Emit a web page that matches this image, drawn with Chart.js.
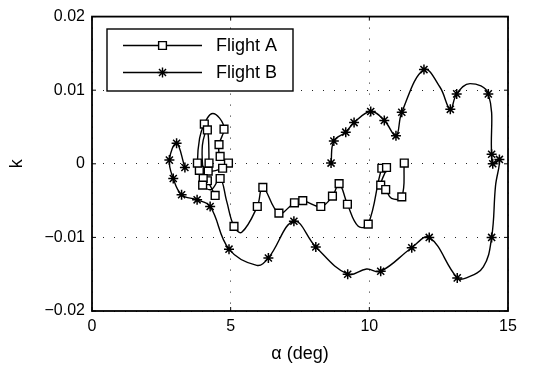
<!DOCTYPE html>
<html>
<head>
<meta charset="utf-8">
<script src="https://cdn.jsdelivr.net/npm/chart.js@4"></script>
<style>
  html, body { margin: 0; padding: 0; background: #fff; }
  canvas { display: block; }
</style>
</head>
<body>
<canvas id="myChart" width="534" height="366"></canvas>
<script>
// values (alpha in deg, k dimensionless)
// marked = 1 where the original plot has a symbol, 0 = point on the curve only
const seriesNames = ['Flight A', 'Flight B'];

const flightA_alpha = [4.44, 4.16, 3.87, 3.80, 3.88, 4.05, 4.31, 4.60, 4.76, 4.58, 4.62, 4.92, 4.71, 4.19,
  4.22, 4.16, 3.98, 4.01, 3.99, 4.30, 4.62, 4.85, 5.12, 5.40, 5.96, 6.16, 6.74, 7.30, 7.60, 8.25,
  8.67, 8.91, 9.21, 9.60, 9.96, 10.45, 10.62, 10.41, 10.59, 10.80, 11.17, 11.26];
const flightA_k = [-0.0043, -0.0023, -0.0009, 0.0001, 0.0035, 0.0054, 0.0068, 0.0062, 0.0047, 0.0026, 0.0010, 0.0001, -0.0006, -0.0010,
  0.0001, 0.0046, 0.0025, -0.0020, -0.0029, -0.0035, -0.0020, -0.0050, -0.0085, -0.0093, -0.0058, -0.0032, -0.0067, -0.0053, -0.0050, -0.0058,
  -0.0044, -0.0027, -0.0055, -0.0085, -0.0082, -0.0006, -0.0005, -0.0029, -0.0035, -0.0047, -0.0045, 0.0001];
const flightA_marked = [1, 1, 1, 1, 0, 1, 0, 0, 1, 1, 1, 1, 1, 1,
  1, 1, 0, 1, 1, 0, 1, 0, 1, 0, 1, 1, 1, 1, 1, 1,
  1, 1, 1, 0, 1, 1, 1, 1, 1, 0, 1, 1];

const flightB_alpha = [3.35, 3.05, 2.79, 2.93, 3.23, 3.79, 4.26, 4.94, 5.94, 6.36, 7.28, 8.07, 9.22, 9.90,
  10.41, 11.53, 12.16, 13.17, 13.50, 14.11, 14.41, 14.55, 14.69, 14.45, 14.41, 14.29, 13.63, 13.15, 12.92, 12.55,
  11.97, 11.17, 10.96, 10.54, 10.05, 9.45, 9.15, 8.72, 8.62];
const flightB_k = [-0.0005, 0.0028, 0.0005, -0.0020, -0.0042, -0.0049, -0.0058, -0.0116, -0.0138, -0.0128, -0.0078, -0.0113, -0.0150, -0.0143,
  -0.0146, -0.0114, -0.0100, -0.0155, -0.0155, -0.0140, -0.0100, -0.0030, 0.0006, 0.0000, 0.0013, 0.0095, 0.0109, 0.0095, 0.0074, 0.0104,
  0.0128, 0.0070, 0.0038, 0.0059, 0.0071, 0.0056, 0.0043, 0.0031, 0.0001];
const flightB_marked = [1, 1, 1, 1, 1, 1, 1, 1, 0, 1, 1, 1, 1, 0,
  1, 1, 1, 1, 0, 0, 1, 0, 1, 1, 1, 1, 0, 1, 1, 0,
  1, 1, 1, 1, 1, 1, 1, 1, 1];

const xTickLabels = ['0', '5', '10', '15'];
const yTickLabels = ['\u22120.02', '\u22120.01', '0', '0.01', '0.02'];

const FONT = "'Liberation Sans', Arial, Helvetica, sans-serif";

function toPoints(xs, ys) {
  return xs.map((x, i) => ({ x: x, y: ys[i] }));
}

const data = {
  datasets: [
    {
      label: seriesNames[0],
      data: toPoints(flightA_alpha, flightA_k),
      borderColor: '#000',
      borderWidth: 1.4,
      tension: 0.4,
      showLine: true,
      pointStyle: 'rect',
      pointRadius: ctx => flightA_marked[ctx.dataIndex] ? 5.5 : 0,
      pointBackgroundColor: '#fff',
      pointBorderColor: '#000',
      pointBorderWidth: 1.4
    },
    {
      label: seriesNames[1],
      data: toPoints(flightB_alpha, flightB_k),
      borderColor: '#000',
      borderWidth: 1.4,
      tension: 0.4,
      showLine: true,
      pointStyle: 'star',
      pointRadius: ctx => flightB_marked[ctx.dataIndex] ? 5 : 0,
      pointBackgroundColor: '#000',
      pointBorderColor: '#000',
      pointBorderWidth: 1.5
    }
  ]
};

// box, inward ticks and legend like the matlab figure
const framePlugin = {
  id: 'frame',
  afterDatasetsDraw(chart) {
    const { ctx, chartArea: a, scales: { x, y } } = chart;
    ctx.save();
    ctx.strokeStyle = '#000';
    ctx.lineWidth = 1;
    ctx.beginPath();
    x.ticks.forEach(t => {
      const px = x.getPixelForValue(t.value);
      ctx.moveTo(px, a.bottom); ctx.lineTo(px, a.bottom - 4);
      ctx.moveTo(px, a.top); ctx.lineTo(px, a.top + 4);
    });
    y.ticks.forEach(t => {
      const py = y.getPixelForValue(t.value);
      ctx.moveTo(a.left, py); ctx.lineTo(a.left + 4, py);
      ctx.moveTo(a.right, py); ctx.lineTo(a.right - 4, py);
    });
    ctx.stroke();
    ctx.lineWidth = 1.8;
    ctx.strokeRect(a.left, a.top, a.right - a.left, a.bottom - a.top);

    // legend
    const lx = 107, ly = 29, lw = 186, lh = 62;
    ctx.fillStyle = '#fff';
    ctx.fillRect(lx, ly, lw, lh);
    ctx.lineWidth = 1.4;
    ctx.strokeRect(lx, ly, lw, lh);
    const rows = [45.5, 72.5];
    chart.data.datasets.forEach((ds, i) => {
      const ry = rows[i];
      ctx.strokeStyle = '#000';
      ctx.lineWidth = 1.4;
      ctx.beginPath();
      ctx.moveTo(123, ry); ctx.lineTo(202, ry);
      ctx.stroke();
      ctx.fillStyle = ds.pointBackgroundColor;
      Chart.helpers.drawPoint(ctx, {
        pointStyle: ds.pointStyle,
        radius: i === 0 ? 5.5 : 5,
        rotation: 0,
        borderWidth: 1.4
      }, 162.5, ry);
      ctx.fillStyle = '#000';
      ctx.font = '18px ' + FONT;
      ctx.textBaseline = 'middle';
      ctx.textAlign = 'left';
      ctx.fillText(ds.label, 216, ry + 1);
    });
    ctx.restore();
  }
};

const config = {
  type: 'scatter',
  data: data,
  options: {
    responsive: false,
    animation: false,
    events: [],
    layout: { padding: { top: 16, right: 26, left: 0, bottom: 0 } },
    plugins: {
      legend: { display: false },
      tooltip: { enabled: false }
    },
    scales: {
      x: {
        type: 'linear',
        min: 0,
        max: 15,
        afterFit: s => { s.height = 55; },
        afterBuildTicks: s => { s.ticks = [0, 5, 10, 15].map(v => ({ value: v })); },
        ticks: {
          color: '#000',
          padding: 6,
          maxRotation: 0,
          font: { family: FONT, size: 16 },
          callback: (v, i) => xTickLabels[i]
        },
        grid: { color: '#222', lineWidth: 1, drawTicks: false },
        border: { display: false, dash: [1, 10] },
        title: {
          display: true,
          text: '\u03b1 (deg)',
          color: '#000',
          font: { family: FONT, size: 18 },
          padding: { top: 0, bottom: 1 }
        }
      },
      y: {
        type: 'linear',
        min: -0.02,
        max: 0.02,
        afterFit: s => { s.width = 92; },
        afterBuildTicks: s => { s.ticks = [-0.02, -0.01, 0, 0.01, 0.02].map(v => ({ value: v })); },
        ticks: {
          color: '#000',
          padding: 7,
          font: { family: FONT, size: 16 },
          callback: (v, i) => yTickLabels[i]
        },
        grid: { color: '#222', lineWidth: 1, drawTicks: false },
        border: { display: false, dash: [1, 10] },
        title: {
          display: true,
          text: 'k',
          color: '#000',
          font: { family: FONT, size: 18 },
          padding: { top: 6, bottom: 0 }
        }
      }
    }
  },
  plugins: [framePlugin]
};

const myChart = new Chart(document.getElementById('myChart'), config);
</script>
</body>
</html>
